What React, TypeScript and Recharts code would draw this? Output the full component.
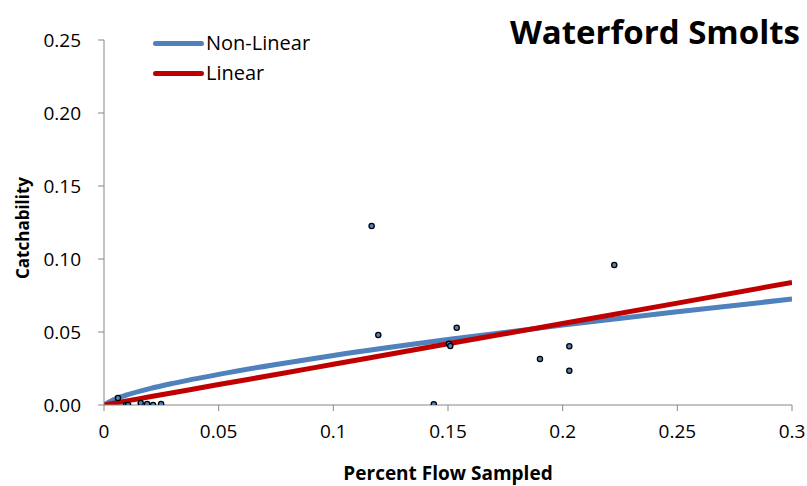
import { ComposedChart, Line, Scatter, XAxis, YAxis } from "recharts";

const fontFamily = "'Open Sans', sans-serif";
const axisColor = "#868686";
const tickStyle = { fill: "#000", fontSize: 19, fontFamily };

const xTicks = [0, 0.05, 0.1, 0.15, 0.2, 0.25, 0.3];
const yTicks = [0, 0.05, 0.1, 0.15, 0.2, 0.25];

// observed catchability points
const sampleFlow = [
  0.0061, 0.0096, 0.0105, 0.016, 0.0188, 0.0214, 0.0249, 0.1167, 0.1196, 0.1538, 0.1504, 0.151,
  0.1438, 0.2225, 0.2029, 0.1901, 0.2029
];
const sampleCatch = [
  0.0048, 0, 0, 0.0014, 0.0007, 0, 0.0007, 0.1226, 0.0479, 0.0529, 0.042, 0.0404, 0.0005, 0.0959,
  0.0402, 0.0315, 0.0235
];

// fitted curves
const fitFlow = [0, 0.005, 0.01, 0.02, 0.03, 0.05, 0.075, 0.1, 0.15, 0.2, 0.25, 0.3];
const nonLinearFit = [0, 0.0043, 0.0069, 0.0112, 0.0148, 0.021, 0.0278, 0.0339, 0.0448, 0.0547, 0.0638, 0.0726];
const linearFit = [0, 0.0014, 0.0028, 0.0056, 0.0084, 0.014, 0.0209, 0.0279, 0.0419, 0.0558, 0.0698, 0.084];

const points = sampleFlow.map((x, i) => ({ x, y: sampleCatch[i] }));
const nonLinearData = fitFlow.map((x, i) => ({ x, y: nonLinearFit[i] }));
const linearData = fitFlow.map((x, i) => ({ x, y: linearFit[i] }));

const legendItems = [
  { label: "Non-Linear", color: "#4F81BD" },
  { label: "Linear", color: "#C00000" }
];

function LegendBox() {
  return (
    <div style={{ position: "absolute", left: 153, top: 28, fontFamily, fontSize: 20, lineHeight: "30px" }}>
      {legendItems.map((item) => (
        <div key={item.label} style={{ display: "flex", alignItems: "center", height: 30 }}>
          <span
            style={{
              display: "inline-block",
              width: 51,
              height: 5,
              borderRadius: 3,
              background: item.color,
              marginRight: 2
            }}
          />
          <span>{item.label}</span>
        </div>
      ))}
    </div>
  );
}

function Dot(props: any) {
  const { cx, cy } = props;
  return <circle cx={cx} cy={cy} r={2.6} fill="#4F81BD" stroke="#000" strokeWidth={1.3} />;
}

function YLabel() {
  return (
    <text
      x={22}
      y={228}
      transform="rotate(-90 22 228)"
      textAnchor="middle"
      dominantBaseline="central"
      style={{ fontFamily, fontSize: 17, fontWeight: 700, fill: "#000" }}
    >
      Catchability
    </text>
  );
}

export default function App() {
  return (
    <div style={{ position: "absolute", left: 0, top: 0, width: 807, height: 486, background: "#fff" }}>
      <ComposedChart width={807} height={486} margin={{ top: 40, right: 15, bottom: 0, left: 0 }}>
        <XAxis
          type="number"
          dataKey="x"
          domain={[0, 0.3]}
          ticks={xTicks}
          tickFormatter={(v) => String(v)}
          tick={tickStyle}
          stroke={axisColor}
          tickSize={6}
          tickMargin={14}
          height={81}
          allowDataOverflow
          label={{
            value: "Percent Flow Sampled",
            position: "insideBottom",
            offset: 6,
            style: { fontFamily, fontSize: 19, fontWeight: 700, fill: "#000" }
          }}
        />
        <YAxis
          type="number"
          dataKey="y"
          domain={[0, 0.25]}
          ticks={yTicks}
          tickFormatter={(v) => v.toFixed(2)}
          tick={tickStyle}
          stroke={axisColor}
          tickSize={6}
          tickMargin={17}
          width={104}
          allowDataOverflow
          label={<YLabel />}
        />
        <Line
          data={nonLinearData}
          dataKey="y"
          type="monotone"
          stroke="#4F81BD"
          strokeWidth={5}
          dot={false}
          isAnimationActive={false}
        />
        <Line
          data={linearData}
          dataKey="y"
          type="monotone"
          stroke="#C00000"
          strokeWidth={5}
          dot={false}
          isAnimationActive={false}
        />
        <Scatter data={points} dataKey="y" shape={Dot} isAnimationActive={false} />
      </ComposedChart>
      <LegendBox />
      <div
        style={{
          position: "absolute",
          right: 7,
          top: 9,
          fontFamily,
          fontSize: 33,
          fontWeight: 700,
          color: "#000"
        }}
      >
        Waterford Smolts
      </div>
    </div>
  );
}
